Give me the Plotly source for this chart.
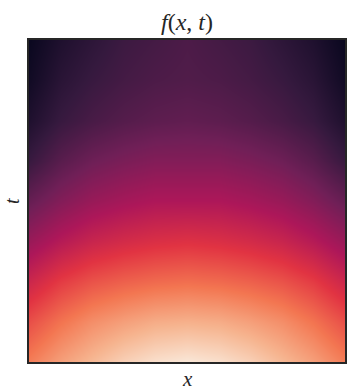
import plotly.graph_objects as go

# Sample positions of the field f(x, t)
x_grid = [0.0, 0.1, 0.2, 0.3, 0.4, 0.5, 0.6, 0.7, 0.8, 0.9, 1.0]
t_grid = [0.0, 0.125, 0.25, 0.375, 0.5, 0.625, 0.75, 0.875, 1.0]

# f(x, t) values, one row per t (t = 0 first)
f_values = [
    [0.73, 0.81, 0.87, 0.93, 0.97, 0.99, 0.97, 0.93, 0.87, 0.81, 0.73],
    [0.63, 0.71, 0.77, 0.81, 0.84, 0.85, 0.84, 0.81, 0.77, 0.71, 0.63],
    [0.51, 0.59, 0.64, 0.67, 0.69, 0.70, 0.69, 0.67, 0.64, 0.59, 0.51],
    [0.38, 0.45, 0.50, 0.53, 0.55, 0.56, 0.55, 0.53, 0.50, 0.45, 0.38],
    [0.26, 0.33, 0.38, 0.41, 0.43, 0.43, 0.43, 0.41, 0.38, 0.33, 0.26],
    [0.15, 0.23, 0.28, 0.31, 0.33, 0.33, 0.33, 0.31, 0.28, 0.23, 0.15],
    [0.08, 0.15, 0.19, 0.22, 0.24, 0.25, 0.24, 0.22, 0.19, 0.15, 0.08],
    [0.04, 0.11, 0.15, 0.18, 0.20, 0.21, 0.20, 0.18, 0.15, 0.11, 0.04],
    [0.02, 0.08, 0.12, 0.16, 0.18, 0.20, 0.18, 0.16, 0.12, 0.08, 0.02],
]

# "rocket"-style sequential colour map
rocket = [
    [0.0, "#03051a"],
    [0.143, "#35193e"],
    [0.286, "#701f57"],
    [0.429, "#ad1759"],
    [0.571, "#e13342"],
    [0.714, "#f37651"],
    [0.857, "#f6b48f"],
    [1.0, "#faebdd"],
]

fig = go.Figure(
    go.Heatmap(
        x=x_grid,
        y=t_grid,
        z=f_values,
        zmin=0,
        zmax=1,
        colorscale=rocket,
        zsmooth="best",
        showscale=False,
    )
)

axis_style = dict(
    showticklabels=False,
    ticks="",
    showgrid=False,
    zeroline=False,
    showline=True,
    mirror=True,
    linecolor="#262626",
    linewidth=1.5,
    range=[0, 1],
)

serif = "Liberation Serif, DejaVu Serif, serif"

fig.update_layout(
    width=349,
    height=391,
    margin=dict(l=29, r=2, t=40, b=29),
    paper_bgcolor="white",
    plot_bgcolor="white",
    xaxis=axis_style,
    yaxis=axis_style,
    annotations=[
        dict(
            text="<i>f</i>(<i>x</i>, <i>t</i>)",
            x=0.5, y=1, xref="paper", yref="paper",
            yshift=18, xanchor="center", yanchor="middle",
            showarrow=False, font=dict(family=serif, size=24, color="#262626"),
        ),
        dict(
            text="<i>x</i>",
            x=0.5, y=0, xref="paper", yref="paper",
            yshift=-17, xanchor="center", yanchor="middle",
            showarrow=False, font=dict(family=serif, size=21, color="#262626"),
        ),
        dict(
            text="<i>t</i>",
            x=0, y=0.5, xref="paper", yref="paper",
            xshift=-17, xanchor="center", yanchor="middle", textangle=-90,
            showarrow=False, font=dict(family=serif, size=20, color="#262626"),
        ),
    ],
)

fig.write_html("out.html")
